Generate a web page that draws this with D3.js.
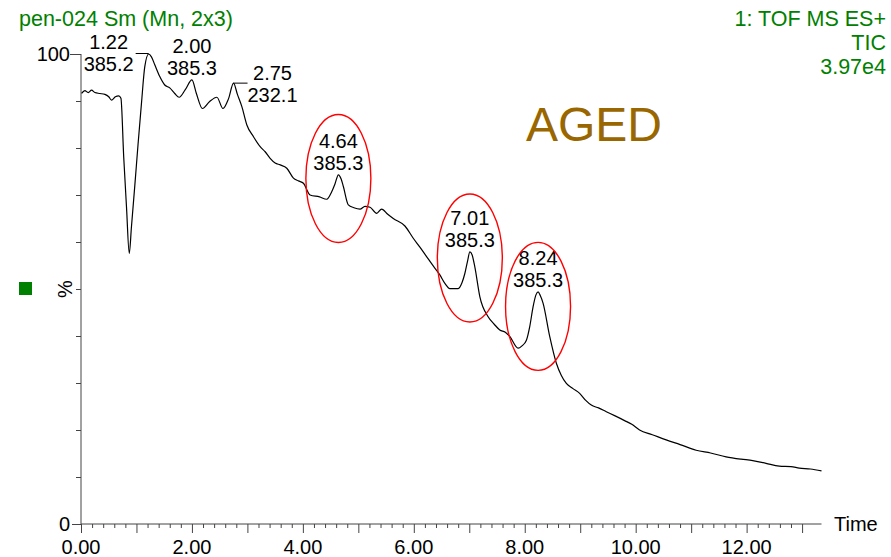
<!DOCTYPE html>
<meta charset="utf-8">
<script src="https://d3js.org/d3.v7.min.js"></script>
<style>
  body { margin: 0; background: #fff; }
  text { font-family: "Liberation Sans", Arial, sans-serif; }
</style>
<div id="chart"></div>
<script>
// retention time (min) and relative intensity (%)
var times = [0.01, 0.07, 0.13, 0.19, 0.25, 0.34, 0.43, 0.50, 0.55, 0.62, 0.68, 0.72, 0.77, 0.82, 0.87, 0.91, 0.97, 1.03, 1.09, 1.15, 1.22,
  1.27, 1.33, 1.42, 1.51, 1.60, 1.69, 1.77, 1.88, 2.00, 2.08, 2.19, 2.32, 2.45, 2.56, 2.66, 2.75, 2.82, 2.90, 2.99, 3.11, 3.23, 3.32, 3.41, 3.50, 3.59,
  3.71, 3.83, 3.92, 4.01, 4.13, 4.30, 4.43, 4.52, 4.58, 4.64, 4.69, 4.73, 4.82, 4.92, 5.03, 5.12, 5.21, 5.33, 5.42, 5.53, 5.63, 5.84,
  5.99, 6.11, 6.23, 6.35, 6.47, 6.56, 6.65, 6.80, 6.87, 6.92, 6.97, 7.01, 7.05, 7.10, 7.19, 7.34, 7.45, 7.55, 7.65, 7.73, 7.88, 7.95, 8.03, 8.09, 8.15, 8.20, 8.24,
  8.28, 8.33, 8.45, 8.57, 8.66, 8.75, 8.87, 8.99, 9.10, 9.20, 9.33, 9.47, 9.63, 9.80, 9.93, 10.07, 10.30, 10.55, 10.80, 11.09, 11.35, 11.63,
  11.90, 12.11, 12.35, 12.59, 12.80, 12.95, 13.15, 13.35];
var pct = [91.6, 92.2, 91.8, 92.3, 91.8, 91.6, 91.4, 90.9, 90.2, 90.9, 91.1, 90.6, 78.1, 67.5, 57.6, 63.3, 72.0, 81.0, 89.5, 97.3, 100,
  99.4, 97.7, 95.2, 93.4, 92.8, 91.6, 90.8, 92.4, 94.5, 91.6, 88.4, 89.9, 90.8, 88.4, 90.5, 93.8, 91.4, 88.8, 84.9, 82.4, 80.3, 79.2, 77.8, 76.8, 76.4,
  75.7, 73.6, 73.0, 72.5, 70.0, 69.6, 69.1, 70.7, 72.4, 74.3, 73.4, 71.8, 67.9, 67.3, 67.0, 67.6, 67.4, 66.1, 67.0, 65.9, 65.0, 63.4,
  60.8, 58.9, 56.9, 54.9, 53.0, 51.2, 50.1, 50.1, 51.4, 53.3, 56.0, 57.9, 57.3, 54.7, 48.4, 44.1, 42.5, 41.3, 40.8, 39.9, 37.4, 37.9, 39.1, 42.0, 46.2, 48.7, 49.4,
  48.6, 47.0, 39.9, 34.2, 31.6, 29.9, 28.8, 27.8, 26.3, 25.3, 24.7, 23.9, 23.0, 22.0, 21.2, 20.0, 19.0, 17.9, 16.9, 15.7, 15.1, 14.3,
  13.8, 13.5, 12.9, 12.3, 12.2, 11.9, 11.7, 11.3];

// labelled peaks: retention time and base peak m/z
var peakTimes = [1.22, 2.00, 2.75, 4.64, 7.01, 8.24];
var peakMass = ["385.2", "385.3", "232.1", "385.3", "385.3", "385.3"];
var peakLabelSide = ["left", "above", "right", "above", "above", "above"];

// peaks circled in red, with the ring centre level (%)
var ringTimes = [4.64, 7.01, 8.24];
var ringPct = [73.5, 56.6, 46.3];

var xTickLabels = ["0.00", "2.00", "4.00", "6.00", "8.00", "10.00", "12.00"];
var yTickLabels = ["0", "100"];

var width = 891, height = 557;
var svg = d3.select("#chart").append("svg")
  .attr("width", width)
  .attr("height", height);

var x = d3.scaleLinear().domain([0, 13.35]).range([81, 821.5]);
var y = d3.scaleLinear().domain([0, 100]).range([524, 54]);

var green = "#008000";

// headers
svg.append("text")
  .attr("x", 19).attr("y", 26)
  .attr("font-size", 21.5).attr("fill", green)
  .text("pen-024 Sm (Mn, 2x3)");

var hdr = ["1: TOF MS ES+", "TIC", "3.97e4"];
svg.selectAll(".hdr").data(hdr).enter().append("text")
  .attr("x", 886).attr("y", function(d, i) { return 26 + i * 24; })
  .attr("text-anchor", "end")
  .attr("font-size", 21.5).attr("fill", green)
  .text(function(d) { return d; });

svg.append("text")
  .attr("x", 526).attr("y", 141)
  .attr("font-size", 48).attr("fill", "#996600")
  .text("AGED");

// legend square and y title
svg.append("rect")
  .attr("x", 19).attr("y", 282).attr("width", 13).attr("height", 13)
  .attr("fill", green);

svg.append("text")
  .attr("transform", "translate(72," + y(50) + ") rotate(-90)")
  .attr("text-anchor", "middle")
  .attr("font-size", 20)
  .text("%");

// y axis
var yAxis = svg.append("g").attr("transform", "translate(" + x(0) + ",0)");
yAxis.call(d3.axisLeft(y).tickValues(d3.range(0, 101, 10)).tickSize(5).tickFormat(""));
yAxis.selectAll(".tick line").filter(function(d) { return d === 0 || d === 100; })
  .attr("x2", function(d) { return d === 0 ? -9 : -11; });
yAxis.select(".domain").attr("d", "M0," + y(100) + "V" + y(0));
yAxis.selectAll(".ylab").data([0, 100]).enter().append("text")
  .attr("class", "ylab")
  .attr("x", -11).attr("y", function(d) { return y(d) + 7; })
  .attr("text-anchor", "end").attr("font-size", 20).attr("fill", "#000")
  .text(function(d, i) { return yTickLabels[i]; });

// x axis
var xAxis = svg.append("g").attr("transform", "translate(0," + y(0) + ")");
xAxis.call(d3.axisBottom(x).tickValues(d3.range(0, 66).map(function(i) { return i * 0.2; }))
  .tickSize(4).tickFormat(""));
xAxis.selectAll(".tick line")
  .filter(function(d) { return Math.abs(d - Math.round(d)) < 1e-6; })
  .attr("y2", 9);
xAxis.select(".domain").attr("d", "M" + x(0) + ",0H" + x(13.35));
xAxis.selectAll(".xlab").data(d3.range(0, 13, 2)).enter().append("text")
  .attr("class", "xlab")
  .attr("x", function(d) { return x(d); }).attr("y", 30)
  .attr("text-anchor", "middle").attr("font-size", 20).attr("fill", "#000")
  .text(function(d, i) { return xTickLabels[i]; });
svg.selectAll(".domain, .tick line").attr("stroke", "#444");

svg.append("text")
  .attr("x", 834).attr("y", y(0) + 7)
  .attr("font-size", 20)
  .text("Time");

// trace
var pts = times.map(function(t, i) { return [t, pct[i]]; });
svg.append("path")
  .datum(pts)
  .attr("fill", "none")
  .attr("stroke", "#000")
  .attr("stroke-width", 1.2)
  .attr("d", d3.line().curve(d3.curveMonotoneX)
    .x(function(d) { return x(d[0]); }).y(function(d) { return y(d[1]); }));

function pctAt(t) {
  var i = d3.leastIndex(times, function(a, b) { return Math.abs(a - t) - Math.abs(b - t); });
  return pct[i];
}

// peak labels
peakTimes.forEach(function(t, i) {
  var px = x(t), py = y(pctAt(t));
  var g = svg.append("g");
  var cx, by;
  if (peakLabelSide[i] === "above") {
    cx = px; by = py - 5;
  } else if (peakLabelSide[i] === "left") {
    g.append("line").attr("x1", px).attr("x2", px - 13).attr("y1", py - 0.5).attr("y2", py - 0.5)
      .attr("stroke", "#000");
    cx = px - 40; by = py + 17;
  } else {
    g.append("line").attr("x1", px).attr("x2", px + 14).attr("y1", py).attr("y2", py)
      .attr("stroke", "#000");
    cx = px + 39; by = py + 19;
  }
  g.append("text").attr("x", cx).attr("y", by - 22)
    .attr("text-anchor", "middle").attr("font-size", 20)
    .text(t.toFixed(2));
  g.append("text").attr("x", cx).attr("y", by)
    .attr("text-anchor", "middle").attr("font-size", 20)
    .text(peakMass[i]);
});

// red rings
svg.selectAll(".ring").data(ringTimes).enter().append("ellipse")
  .attr("class", "ring")
  .attr("cx", function(d) { return x(d); })
  .attr("cy", function(d, i) { return y(ringPct[i]); })
  .attr("rx", 32.5).attr("ry", 64)
  .attr("fill", "none")
  .attr("stroke", "#ff0000")
  .attr("stroke-width", 1.4);
</script>
